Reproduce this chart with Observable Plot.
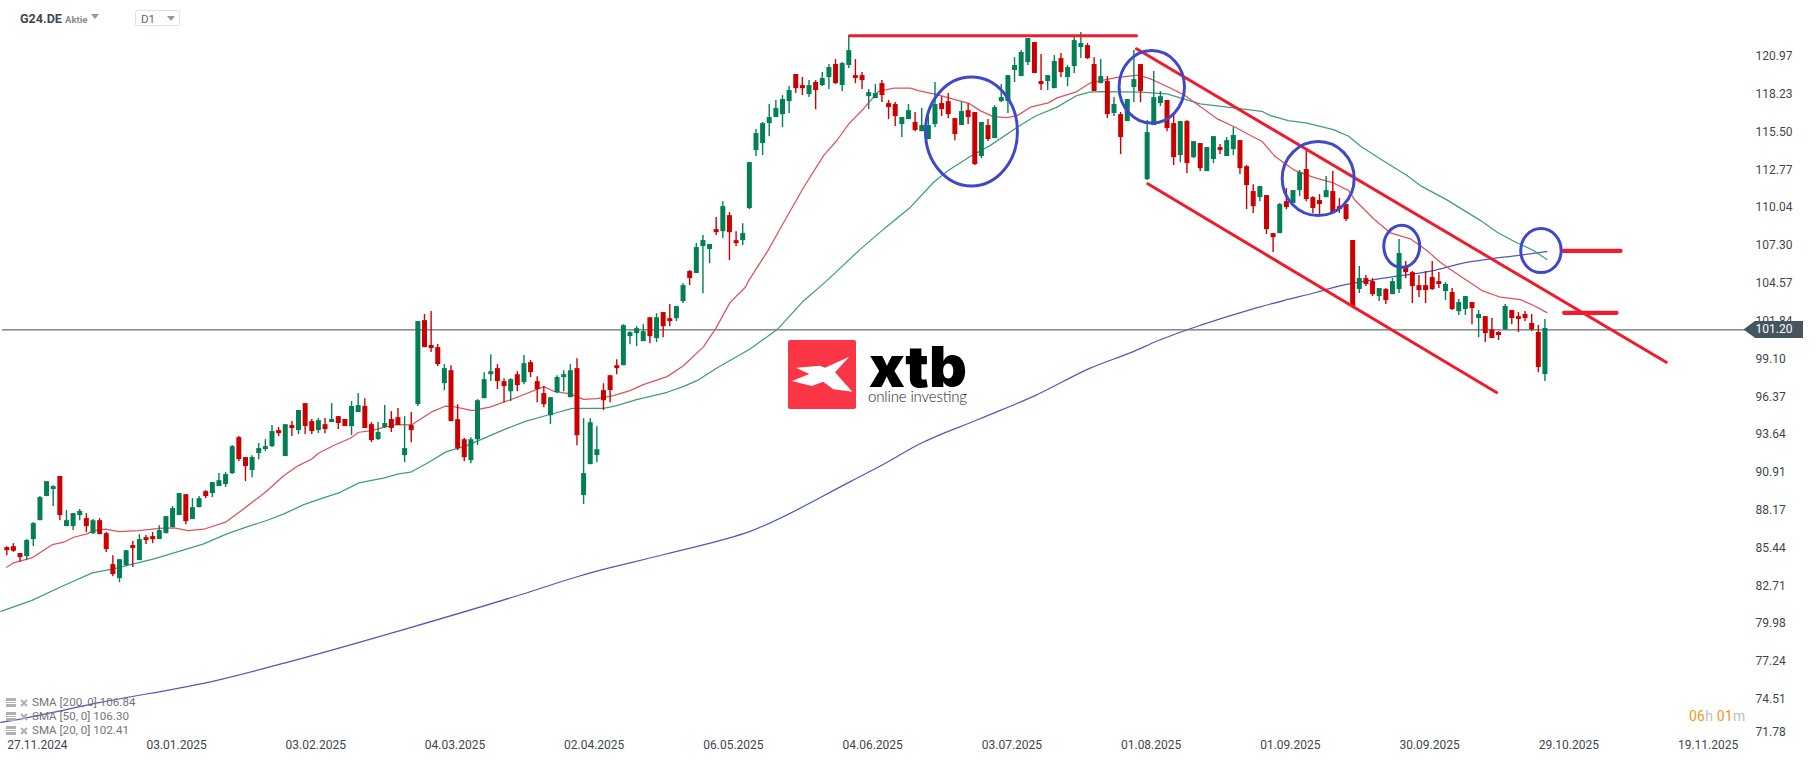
<!DOCTYPE html>
<html><head><meta charset="utf-8">
<script src="https://cdn.jsdelivr.net/npm/d3@7"></script>
<script src="https://cdn.jsdelivr.net/npm/@observablehq/plot@0.6"></script>
<style>
html,body{margin:0;padding:0;background:#fff;font-family:Roboto,sans-serif;overflow:hidden}
#wrap{position:relative;width:1815px;height:761px}
#wrap>svg{display:block}
.o{position:absolute;white-space:nowrap}
.tri{position:absolute;width:0;height:0;border-left:4px solid transparent;border-right:4px solid transparent;border-top:5px solid #999}
.leg{position:absolute;left:6px;font-size:11.6px;color:#757575;line-height:14px;white-space:nowrap}
#wrap .leg svg{display:inline-block;vertical-align:-1px;margin-right:4px}
</style></head><body><div id="wrap"></div>
<script>
const opens=[85.46,85.53,85.03,84.81,86.04,87.41,89.15,89.66,90.60,86.98,
86.98,87.78,87.56,86.47,87.41,86.47,84.23,83.22,84.16,85.61,
84.52,86.18,86.26,86.04,86.47,86.91,87.78,89.29,87.49,88.35,
89.51,89.37,89.87,90.02,90.81,93.41,91.97,91.03,92.26,92.55,
92.76,93.92,92.04,94.28,93.92,95.87,94.57,93.92,94.35,94.50,
94.93,94.72,94.21,95.22,95.66,94.35,93.27,94.14,94.72,94.86,
92.11,94.28,95.80,101.87,100.07,99.92,97.32,98.25,94.71,93.26,
91.75,93.26,96.23,97.96,98.40,97.46,96.73,97.96,97.39,98.83,
97.46,96.59,95.00,96.66,97.75,96.30,98.40,89.22,91.46,92.11,
96.81,97.89,98.61,98.61,100.71,100.93,100.35,102.08,100.57,102.45,
102.01,102.01,103.24,105.42,105.27,107.22,107.01,108.45,108.30,109.46,
107.65,107.65,109.97,114.16,114.67,116.11,116.55,116.76,117.70,119.66,
118.86,118.21,119.08,118.86,119.44,120.38,118.86,120.31,119.58,119.58,
118.06,117.92,119.00,117.56,117.49,116.04,116.40,116.19,115.53,114.96,
116.04,117.56,117.70,116.47,115.97,117.05,116.91,113.73,115.97,115.03,
117.70,117.70,119.95,119.51,120.52,121.97,119.15,119.15,118.64,120.81,
119.44,120.23,121.61,121.75,120.38,119.00,119.15,116.84,116.76,116.26,
118.72,120.38,112.06,115.97,117.56,117.78,116.11,113.80,116.26,113.65,
114.67,112.64,113.51,114.38,113.73,114.23,114.88,113.00,111.20,110.76,
110.91,108.16,108.16,110.47,110.33,111.27,112.79,110.76,110.55,110.76,
111.20,110.11,110.26,107.66,104.12,104.91,104.69,103.61,104.12,103.75,
104.12,105.71,105.34,104.40,104.40,104.98,104.69,103.97,103.90,102.52,
102.67,103.18,102.02,102.16,101.20,101.01,101.20,102.60,102.16,102.31,
101.66,101.01,97.97];
const closes=[85.24,85.20,84.74,85.97,87.20,89.08,90.23,89.87,87.78,87.41,
87.92,88.07,86.98,87.41,86.40,85.32,83.51,84.59,85.24,85.39,
86.04,85.97,86.04,86.69,87.70,88.28,89.37,87.34,88.35,89.00,
89.15,90.16,90.30,90.74,92.76,91.82,91.32,91.97,92.62,92.76,
93.85,93.70,94.35,94.07,95.37,94.21,93.85,94.64,94.00,94.72,
94.43,94.21,95.66,95.73,94.07,93.20,93.78,94.43,94.07,94.28,
92.62,93.92,101.80,99.92,99.85,98.69,98.40,94.57,92.61,91.96,
93.26,96.08,97.60,98.18,97.46,97.10,97.60,97.17,98.76,98.11,
96.88,95.79,96.30,97.75,97.96,98.25,93.55,90.81,94.49,92.54,
96.08,96.81,98.40,101.51,101.00,101.29,101.07,100.71,102.08,101.43,
101.80,102.88,104.40,104.91,107.15,107.66,107.37,108.23,110.11,108.23,
107.44,108.16,113.29,115.39,116.11,116.55,117.20,117.85,118.50,118.64,
118.64,118.86,118.50,119.37,120.16,119.00,120.45,121.39,119.37,119.22,
118.35,118.28,118.14,117.27,116.62,116.55,117.05,115.61,115.97,115.97,
117.49,117.12,116.76,115.32,116.98,116.55,113.15,116.19,114.96,117.27,
117.99,119.58,120.31,121.25,122.26,119.73,118.93,119.58,120.60,119.80,
120.16,122.11,121.90,120.81,118.43,119.51,116.76,117.49,115.10,117.85,
119.29,118.43,115.46,117.99,118.06,115.75,113.65,116.26,113.22,114.81,
112.86,114.38,115.17,114.16,114.88,115.25,112.86,111.63,110.11,111.56,
108.45,107.87,110.26,110.04,111.27,112.57,110.62,109.97,110.26,111.27,
109.61,109.89,109.17,102.89,104.91,104.48,103.75,104.19,103.32,104.69,
106.72,105.34,104.33,104.04,104.04,104.12,104.48,104.48,102.67,103.18,
103.61,102.74,102.31,100.93,100.57,100.79,102.89,102.02,101.95,102.02,
101.20,98.48,101.30];
const highs=[85.53,85.75,85.03,86.04,87.27,89.15,90.23,89.94,90.60,88.14,
87.92,88.21,87.92,87.49,87.56,86.55,84.88,84.59,85.24,85.90,
86.40,86.33,86.55,87.05,87.70,88.43,89.37,89.29,89.00,89.15,
89.58,90.16,90.81,90.88,92.84,93.49,91.97,92.11,92.98,93.27,
94.28,94.14,94.35,94.57,95.37,95.87,94.72,94.79,94.79,95.87,
94.93,94.72,96.02,96.60,96.23,94.50,94.50,95.73,95.29,95.51,
94.93,95.22,101.80,102.31,102.52,100.14,98.69,98.61,95.79,93.34,
93.41,96.16,98.11,99.41,98.69,97.67,97.67,98.18,99.34,98.98,
97.82,97.10,96.30,97.89,98.25,98.69,99.12,94.78,94.78,94.20,
97.31,97.89,99.05,101.58,101.07,101.43,101.58,102.08,102.37,102.45,
103.03,102.88,104.54,105.49,107.44,108.02,107.37,109.32,110.47,109.68,
108.30,108.88,113.29,115.68,116.19,117.49,117.78,118.14,118.79,119.66,
119.44,119.22,119.22,119.80,120.38,120.74,120.52,122.48,120.74,119.80,
118.57,118.93,119.22,117.78,117.63,116.55,117.49,116.91,117.20,116.62,
119.08,118.06,118.28,116.47,117.63,117.56,116.91,116.19,116.40,117.41,
118.93,119.58,120.88,121.39,122.26,121.97,121.10,119.58,121.03,121.17,
120.31,122.33,122.69,121.90,120.88,120.74,119.51,117.99,116.91,117.85,
121.39,120.38,116.33,119.87,118.43,117.78,116.91,116.26,116.33,114.81,
114.67,114.38,115.17,114.60,115.10,115.82,114.88,113.08,111.70,111.56,
110.91,108.16,110.33,111.41,111.27,112.72,114.09,110.83,110.98,112.28,
112.64,110.69,110.26,107.66,105.78,105.13,104.91,104.19,104.19,104.91,
107.73,106.14,105.42,105.13,105.42,106.14,105.34,104.62,104.19,103.39,
103.61,103.18,102.60,102.16,102.02,101.08,103.03,102.60,102.45,102.52,
102.31,101.51,101.95];
const lows=[84.88,85.12,84.40,84.52,85.53,87.41,89.15,88.43,87.41,86.98,
86.69,87.41,86.55,86.40,86.40,85.10,83.36,82.93,84.09,84.02,
84.52,85.68,85.75,86.04,86.47,86.91,87.78,87.12,87.49,88.35,
89.00,89.08,89.87,89.80,90.74,91.68,90.23,90.52,91.82,92.40,
92.69,93.49,92.04,93.49,93.63,93.63,93.63,93.70,93.70,94.50,
94.00,94.21,93.56,95.22,94.07,93.05,93.20,94.07,93.78,94.28,
91.61,93.05,95.66,99.92,99.56,98.55,96.81,94.57,92.47,91.67,
91.53,92.83,96.23,97.46,96.88,95.94,96.01,96.73,97.24,97.75,
95.94,95.58,94.35,96.59,96.73,96.30,92.83,88.57,91.46,91.60,
95.36,95.94,97.96,98.61,100.13,99.99,100.35,100.20,100.28,100.64,
101.43,101.80,103.10,104.40,105.27,103.82,105.99,108.02,107.80,106.21,
107.22,107.29,109.89,113.73,113.80,115.17,116.55,115.82,116.84,118.28,
118.14,117.99,117.12,118.79,118.57,118.93,118.43,120.09,119.00,118.57,
117.12,117.92,117.63,116.40,115.90,115.10,116.40,115.53,115.53,114.96,
115.82,116.62,116.47,114.88,115.97,116.04,113.08,113.58,114.81,115.03,
117.63,116.84,119.08,119.51,120.31,119.73,118.50,118.50,118.64,119.44,
118.79,119.73,120.81,120.74,118.43,119.00,116.47,116.62,113.87,116.26,
117.63,117.63,111.99,115.97,117.34,115.53,113.08,113.29,112.50,113.58,
112.64,112.64,113.22,113.87,113.73,113.80,112.43,109.89,109.61,110.47,
108.09,106.79,108.16,109.89,110.33,110.83,110.47,109.61,109.53,110.76,
109.61,109.61,109.03,102.74,103.83,104.33,103.61,103.25,103.03,103.75,
103.83,104.91,103.10,103.54,103.10,104.04,104.19,103.32,102.60,102.24,
102.24,101.58,100.64,100.28,100.57,100.43,101.20,101.58,101.01,101.80,
101.08,98.11,97.46];

const sma20=[[0,84.04],[1,84.36],[3.9,84.74],[6.9,85.68],[8.6,85.85],[10.1,86.21],[12.1,86.45],[13.1,86.69],[14.9,86.79],[16.9,86.62],[19.9,86.69],[22.9,86.86],[25.2,86.89],[27.4,86.69],[29.7,86.79],[33,87.30],[35.7,88.26],[39,89.46],[41.8,90.67],[44,91.39],[46,91.87],[47,92.28],[49.3,92.84],[51.8,93.37],[53.1,93.8],[54.8,93.9],[56.8,94.16],[58.8,94.36],[61.1,94.34],[64,95.25],[66.1,95.68],[67.4,95.65],[70.2,95.36],[73,95.63],[77,96.33],[81,97.1],[82.5,96.76],[85,96.57],[87,96.18],[89,96.23],[91.5,96.45],[94,96.81],[96,97.24],[99.6,97.82],[102.1,98.62],[105.1,99.99],[106.9,101.27],[109.1,103.19],[111.4,104.28],[111.9,104.76],[114.8,106.93],[117.2,108.98],[120.2,111.51],[123.2,113.8],[125.2,114.89],[127,116.09],[129.2,117.17],[131.5,118.45],[133.8,118.67],[136.3,118.67],[137.5,118.5],[140.3,118.21],[145.1,117.58],[146.8,117.05],[148.8,116.62],[150.9,116.55],[152.4,116.69],[154.4,117.3],[157.1,117.61],[158.4,117.97],[161.2,118.38],[163.4,119.05],[167.5,119.46],[170.7,119.61],[172.5,119.34],[175,118.79],[177.5,118.21],[180,117.34],[182.6,116.45],[185.3,115.85],[187.6,115.25],[189.3,114.84],[191.3,113.73],[194.1,112.77],[197.1,112.23],[200.1,111.82],[202.4,111.27],[203.4,110.55],[206.2,109.22],[208.7,108.21],[211.7,107.78],[214.2,106.94],[216.2,106.09],[218.2,105.42],[222.5,104.04],[225.3,103.56],[228.3,103.39],[230.3,102.96],[232.3,102.45]];
const sma50=[[-0.9,80.85],[3.7,81.63],[8.6,82.72],[12.9,83.63],[16.1,83.92],[19.1,84.28],[22.2,84.65],[25.2,85.08],[29.7,85.73],[33.2,86.45],[36,86.93],[39.2,87.42],[41.8,87.9],[44.8,88.57],[47.3,88.98],[50.3,89.46],[53.1,90.14],[56.8,90.48],[59.1,90.79],[60.9,90.91],[63.2,91.5],[66.3,92.4],[69.4,92.83],[75,93.99],[78.2,94.59],[81.5,95.03],[85.3,95.53],[90,95.53],[92,95.72],[95,96.16],[99.6,96.69],[102.1,97.12],[104.1,97.53],[107.1,98.45],[112.1,99.82],[116.2,101.22],[120.2,103.31],[123.7,104.76],[128.5,106.93],[132.3,108.5],[136.3,110.07],[139.8,111.87],[142,112.72],[145.3,113.73],[148.3,114.52],[152.4,115.85],[155.1,116.64],[158.4,117.3],[161.4,118.14],[163.3,118.38],[165,118.43],[171,118.38],[175,118.26],[177.5,117.9],[180,117.54],[183.5,117.34],[189.3,117],[190.6,116.69],[193.3,116.33],[196.1,116.14],[200.1,115.68],[202.4,115.2],[204.2,114.48],[208.2,113.25],[211.2,112.36],[213.2,111.63],[217.2,110.6],[222.3,109.1],[224.8,108.26],[227.3,107.61],[230.3,106.94],[232.3,106.28]];
const sma200=[[-0.9,72.83],[0,72.9],[14.1,74.27],[31.7,75.87],[42.7,77.22],[60.1,79.57],[77.6,82.07],[86.4,83.41],[99.4,85.0],[112.4,86.69],[127.3,90.25],[132.8,91.63],[137.5,92.91],[146.7,94.76],[155.1,96.45],[163.5,98.45],[169.9,99.63],[173.7,100.43],[180.2,101.56],[187.6,102.67],[192.6,103.32],[197.6,103.92],[201.2,104.4],[207.7,104.94],[215.2,105.49],[219.8,106.04],[223.8,106.33],[227.8,106.57],[232.3,106.86]];

const yTicks=[120.97,118.23,115.50,112.77,110.04,107.30,104.57,101.84,99.10,96.37,93.64,90.91,88.17,85.44,82.71,79.98,77.24,74.51];
const yBottomTick=[71.78];
const xTickPositions=[4.6,25.6,46.6,67.6,88.6,109.6,130.6,151.6,172.6,193.6,214.6,235.6,256.6];
const xTickLabels=["27.11.2024","03.01.2025","03.02.2025","04.03.2025","02.04.2025","06.05.2025","04.06.2025","03.07.2025","01.08.2025","01.09.2025","30.09.2025","29.10.2025","19.11.2025"];
const lastPrice=101.20;
const legendRows=["SMA [200, 0] 106.84","SMA [50, 0] 106.30","SMA [20, 0] 102.41"];

// hand-drawn annotations: [index, price] end points
const segments=[
 [[127.1,122.46],[170.4,122.46]],
 [[170.4,121.52],[250.3,98.86]],
 [[172.1,111.76],[224.7,96.67]]
];
const stubs=[
 [[234.7,106.91],[243.4,106.91]],
 [[234.9,102.43],[242.8,102.43]]
];
const circleCentres=[[145.5,115.54],[172.7,118.77],[197.8,112.14],[210.4,107.24],[231.4,106.93]];
const circleRadii=[[46,54.5],[32.7,36.3],[36,37],[18,21],[20.2,22]];

const candles=opens.map((o,i)=>({i,o,c:closes[i],h:highs[i],l:lows[i]}));
const GREEN="#037f55",RED="#cc0000";
const col=d=>d.c>=d.o?GREEN:RED;
const ellipse=(rx,ry)=>({draw(ctx){const k=.5523;
 ctx.moveTo(rx,0);
 ctx.bezierCurveTo(rx,k*ry,k*rx,ry,0,ry);
 ctx.bezierCurveTo(-k*rx,ry,-rx,k*ry,-rx,0);
 ctx.bezierCurveTo(-rx,-k*ry,-k*rx,-ry,0,-ry);
 ctx.bezierCurveTo(k*rx,-ry,rx,-k*ry,rx,0);
 ctx.closePath();}});
const smaLine=(data,stroke,curve)=>Plot.line(data,{x:d=>d[0],y:d=>d[1],stroke,strokeWidth:1.25,curve});
const redLine=(data,w)=>Plot.line(data,{x:d=>d[0],y:d=>d[1],stroke:"#f01c2b",strokeWidth:w,strokeLinecap:"round"});

const chart=Plot.plot({
 width:1815,height:761,
 marginLeft:0,marginTop:0,marginBottom:0,marginRight:60,
 style:{fontFamily:"Roboto",fontSize:"12px",color:"#3d4750",background:"#fff"},
 x:{type:"linear",domain:[-0.95,263.76],axis:null},
 y:{type:"linear",domain:[70,125.01],axis:null},
 marks:[
  Plot.ruleY([lastPrice],{x1:-0.65,x2:263.7,stroke:"#3f4a52",strokeWidth:1}),
  smaLine(sma200,"#5159b6","monotone-x"),
  smaLine(sma50,"#3f9d7f","linear"),
  smaLine(sma20,"#e0525a","linear"),
  Plot.ruleX(candles,{x:"i",y1:"l",y2:"h",stroke:col,strokeWidth:1.4}),
  Plot.ruleX(candles,{x:"i",y1:"o",y2:"c",stroke:col,strokeWidth:5}),
  ...segments.map(s=>redLine(s,3)),
  ...stubs.map(s=>redLine(s,4.2)),
  ...circleCentres.map((c,j)=>Plot.dot([c],{x:d=>d[0],y:d=>d[1],symbol:ellipse(...circleRadii[j]),stroke:"#3f48cc",strokeWidth:3,fill:"none"})),
  Plot.axisY({anchor:"right",ticks:yTicks,tickSize:0,tickPadding:0,tickFormat:d=>d.toFixed(2),label:null}),
  Plot.axisY({anchor:"right",ticks:yBottomTick,tickSize:0,tickPadding:0,dy:-4.5,tickFormat:d=>d.toFixed(2),label:null}),
  Plot.axisX({anchor:"bottom",ticks:xTickPositions,tickSize:0,tickPadding:0,dy:-21.5,label:null,
   tickFormat:d=>xTickLabels[xTickPositions.indexOf(d)]})
 ]
});
const wrap=document.getElementById("wrap");
wrap.appendChild(chart);

const add=(html)=>{const t=document.createElement("div");t.innerHTML=html;while(t.firstChild)wrap.appendChild(t.firstChild);};
const tagY=chart.scale("y").apply(lastPrice);
add(`<div class="o" style="left:1743.5px;top:${tagY-8.8}px;width:59.5px;height:17.6px;background:#455560;clip-path:polygon(0 50%,12px 0,100% 0,100% 100%,12px 100%);color:#fff;font-size:12px;line-height:17.6px;text-indent:12px">${lastPrice.toFixed(2)}</div>`);
add(`<div class="o" style="left:20px;top:11px;font-size:12.6px;font-weight:700;line-height:16px;color:#3d4750">G24.DE</div>
<div class="o" style="left:65px;top:13px;font-size:9.5px;font-weight:700;line-height:13px;color:#8d8d8d">Aktie</div>
<div class="tri" style="left:91px;top:14px"></div>
<div class="o" style="left:135px;top:10px;width:43px;height:14px;border:1px solid #e2e2e2;border-radius:2px"></div>
<div class="o" style="left:141px;top:12px;font-size:11.5px;line-height:14px;color:#666">D1</div>
<div class="tri" style="left:167px;top:16px"></div>
<div class="o" style="left:1689px;top:708px;font-size:14px;line-height:16px;color:#bdbdbd;letter-spacing:.2px"><span style="color:#f7971e">06</span>h <span style="color:#f7971e">01</span>m</div>`);
legendRows.forEach((txt,j)=>{
 add(`<div class="leg" style="top:${695+j*14}px"><svg width="10" height="9" viewBox="0 0 10 9"><rect width="10" height="3" fill="#b0b0b0"/><rect y="4" width="10" height="1" fill="#b0b0b0"/><rect y="6" width="10" height="3" fill="#b0b0b0"/></svg><svg width="8" height="8" viewBox="0 0 8 8"><path d="M1 1L7 7M7 1L1 7" stroke="#b0b0b0" stroke-width="2"/></svg>${txt}</div>`);
});
add(`<svg class="o" style="left:780px;top:310px" width="200" height="110" viewBox="780 310 200 110">
<rect x="788" y="340" width="68" height="69" rx="2" fill="#f93546"/>
<polygon fill="#fff" points="796,367.7 820,365.7 825,367.7 849.3,356.7 835,372.3 852.3,391.7 833.3,389.3 823.3,381.7 811.7,386 792,381 809.3,374"/>
<text x="869" y="386.7" font-family="Inter" font-weight="900" font-size="57" textLength="98" lengthAdjust="spacingAndGlyphs" fill="#000">xtb</text>
<text x="868" y="401.7" font-family="Lato" font-weight="300" font-size="15" textLength="99" fill="#222">online investing</text>
</svg>`);
</script></body></html>
